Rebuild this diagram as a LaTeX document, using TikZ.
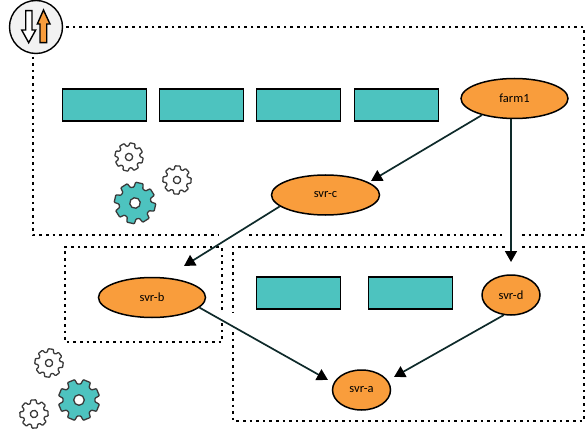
\documentclass[tikz,border=0pt]{standalone}
\usepackage{fontspec}
\setmainfont{Carlito}
\usetikzlibrary{arrows.meta,shapes.geometric}
\definecolor{tealbox}{HTML}{4DC3BF}
\definecolor{orangeN}{HTML}{F99D3C}
\definecolor{lineC}{HTML}{0E2A2A}
\definecolor{gearE}{HTML}{3A3A3A}
\tikzset{
  server/.style={draw=black,line width=1.7pt,fill=tealbox,minimum width=84pt,minimum height=32pt,inner sep=0pt},
  host/.style={ellipse,draw=black,line width=1.5pt,fill=orangeN,inner sep=0pt,font=\fontsize{12.5}{14}\selectfont},
  link/.style={draw=lineC,line width=1.7pt,-{Triangle[length=11pt,width=12pt,color=black]}},
  zone/.style={draw=black,line width=1.6pt,dash pattern=on 2.6pt off 4pt},
}
\newcommand{\cog}[5]{%
  \begin{scope}[shift={(#1,#2)},rotate=#5]
    \draw[draw=gearE,fill=#4,line width=1.3pt,rounded corners=0.7pt,even odd rule]
      (6:#3) \foreach \a in {0,45,...,315}{
        -- (\a+6:#3) -- (\a+12:1.3*#3) -- (\a+33:1.3*#3) -- (\a+39:#3)
      } -- cycle
      (0,0) circle[radius=0.33*#3];
  \end{scope}}
\begin{document}
\begin{tikzpicture}[x=1pt,y=-1pt]
\useasboundingbox (0,0) rectangle (585,438);
% zones
\draw[zone] (33,50) -- (33,235) -- (219,235);
\draw[zone] (249,235) -- (505,235);
\draw[zone] (522,235) -- (584,235) -- (584,27) -- (64,27);
\draw[zone] (222,310) -- (222,247) -- (65,247) -- (65,342) -- (222,342) -- (222,322);
\draw[zone] (505,247) -- (233,247) -- (233,313);
\draw[zone] (233,332) -- (233,421) -- (584,421) -- (584,247) -- (522,247);
% servers
\node[server,anchor=north west] (s1) at (61.5,88.5) {};
\node[server,anchor=north west] (s2) at (158.5,88.5) {};
\node[server,anchor=north west] (s3) at (255.5,88.5) {};
\node[server,anchor=north west] (s4) at (353.5,88.5) {};
\node[server,anchor=north west] (s5) at (255.5,276) {};
\node[server,anchor=north west] (s6) at (367.5,276) {};
% hosts
\node[host,minimum width=107pt,minimum height=40pt] (farm) at (514.5,98.5) {farm1};
\node[host,minimum width=108pt,minimum height=40pt] (c) at (325.5,195) {svr-c};
\node[host,minimum width=107pt,minimum height=40pt] (b) at (152,297.5) {svr-b};
\node[host,minimum width=58pt,minimum height=40pt] (d) at (511,295) {svr-d};
\node[host,minimum width=58pt,minimum height=40pt] (a) at (361.5,390) {svr-a};
% link ends
\coordinate (toC) at (371,181);
\coordinate (toB) at (184,266);
\coordinate (toD) at (511,262);
\coordinate (toA1) at (328,380);
\coordinate (toA2) at (394,377);
% links
\draw[link] (farm.207) -- (toC);
\draw[link] (c.194) -- (toB);
\draw[link] (farm.south -| toD) -- (toD);
\draw[link] (b.348) -- (toA1);
\draw[link] (d.250) -- (toA2);
% gears
\cog{129}{157}{11}{white}{8}
\cog{177}{180}{11}{white}{20}
\cog{135}{203}{16}{tealbox}{10}
\cog{49}{363}{11}{white}{15}
\cog{34}{414}{11}{white}{25}
\cog{79}{400}{16}{tealbox}{0}
% icon
\node[circle,draw=black,line width=1.4pt,fill=white!95!black,minimum size=53pt,inner sep=0pt] (ico) at (36,27) {};
\draw[black,line width=1.4pt,fill=white,line join=miter]
  (25.7,10.7) -- (32,10.7) -- (32,30) -- (35.7,30) -- (28.7,42.7) -- (21.7,30) -- (25.7,30) -- cycle;
\draw[black,line width=1.4pt,fill=orangeN,line join=miter]
  (40,42.7) -- (46.7,42.7) -- (46.7,24) -- (50,24) -- (43.5,10) -- (37.3,24) -- (40,24) -- cycle;
\end{tikzpicture}
\end{document}
